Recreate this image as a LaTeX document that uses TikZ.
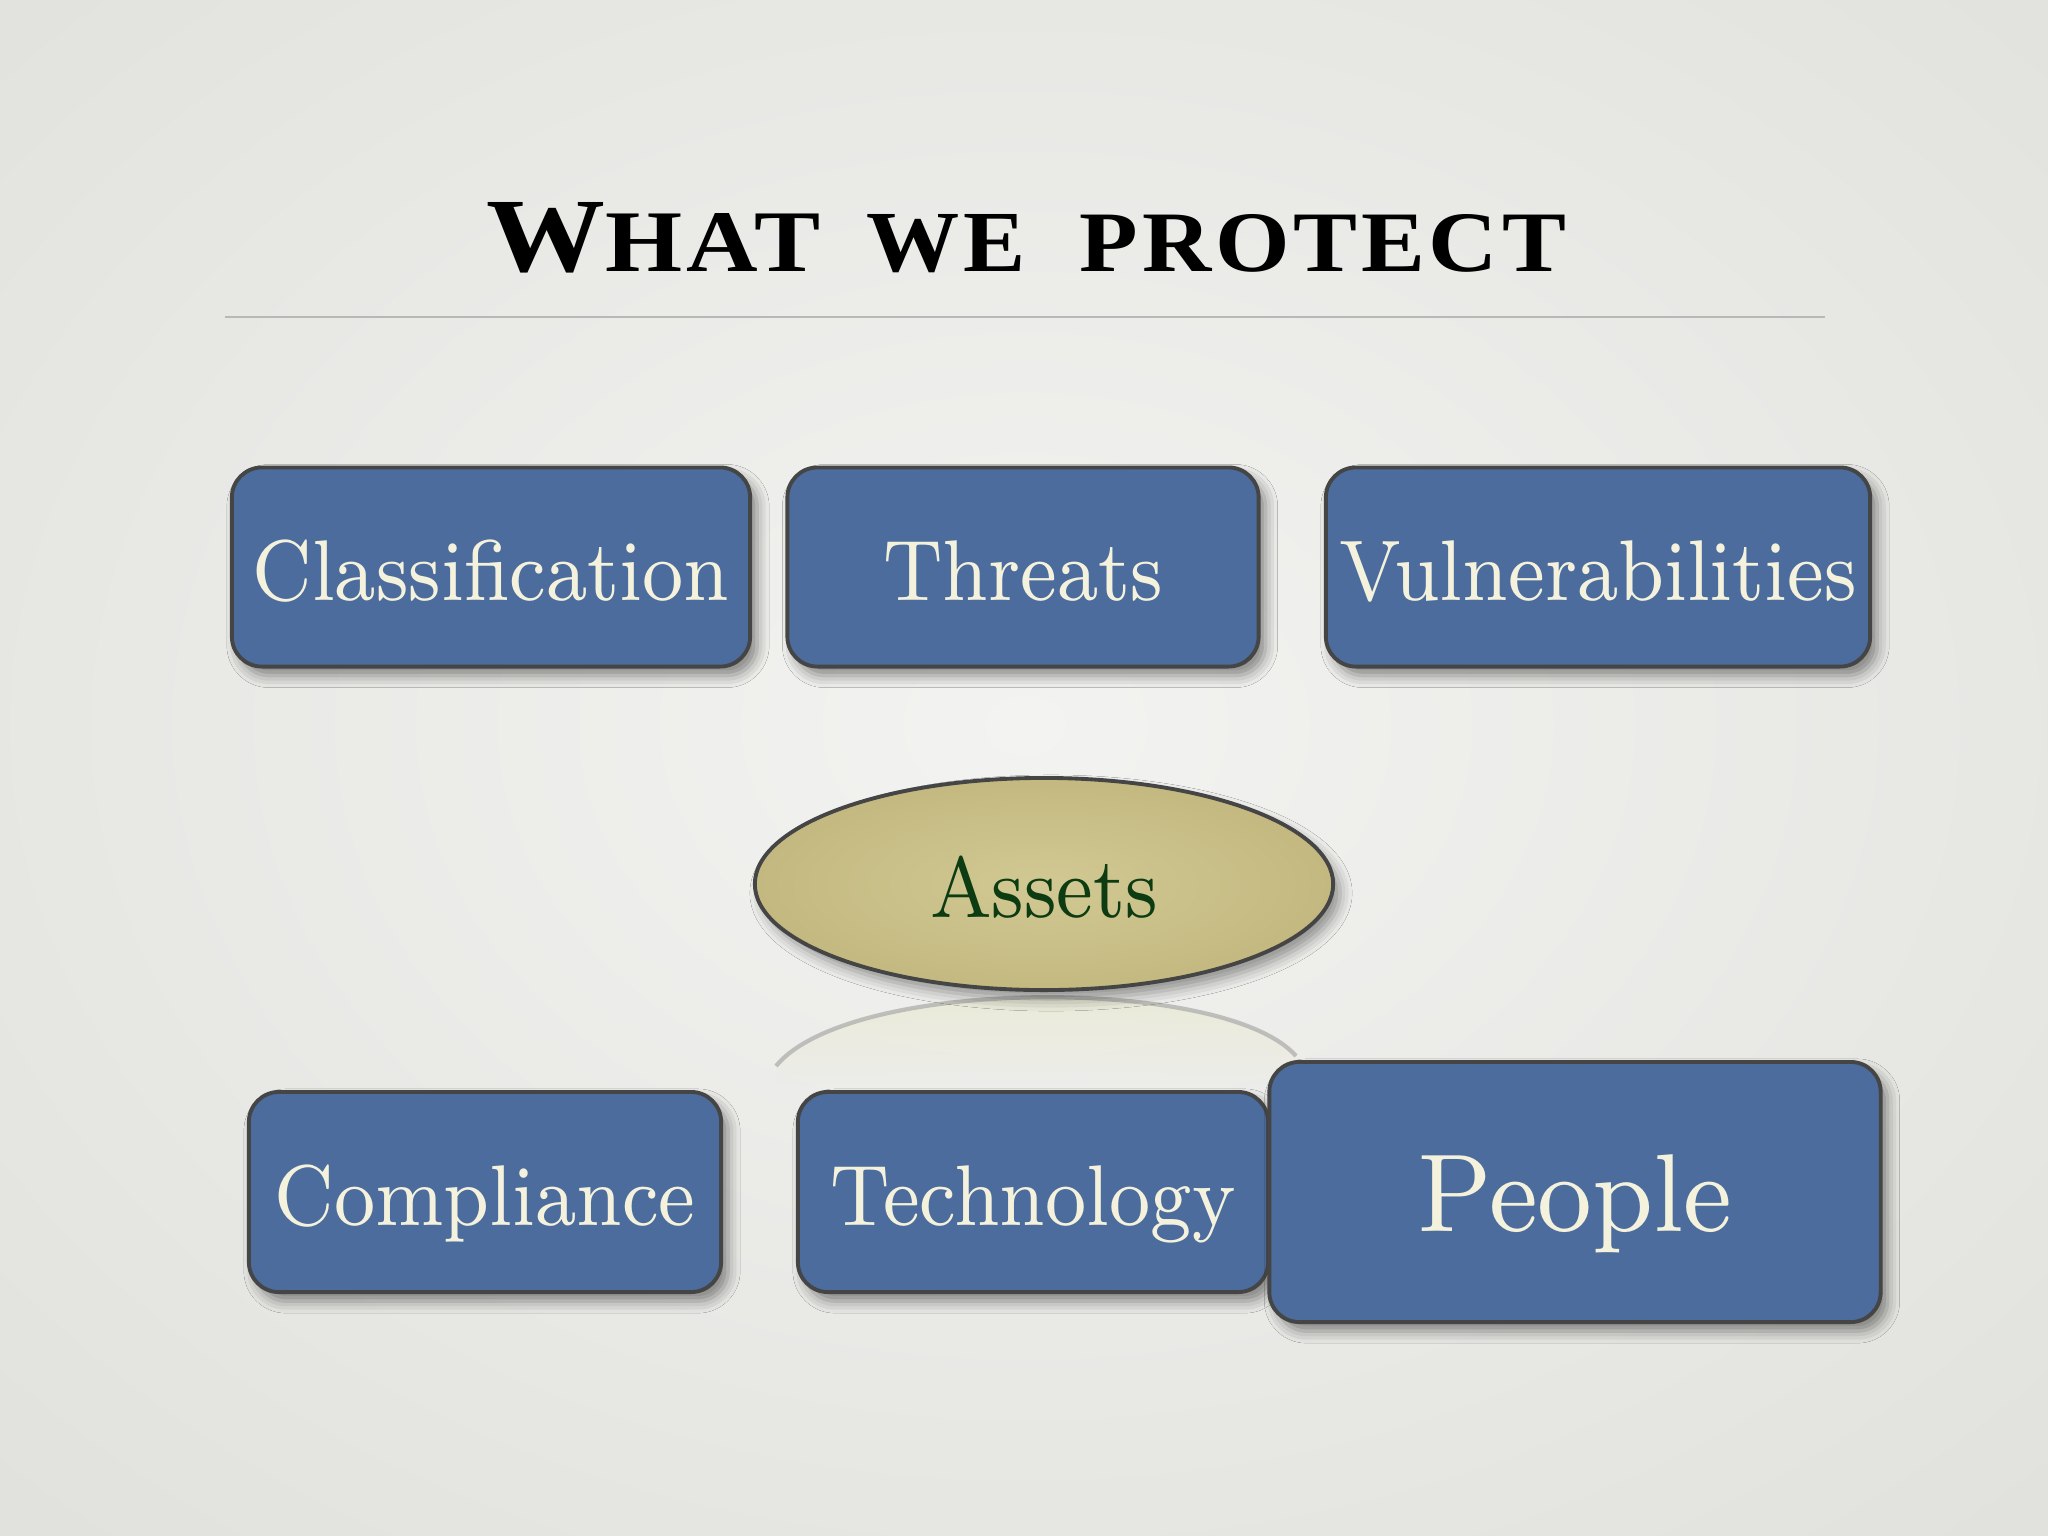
\documentclass[tikz,border=0pt]{standalone}
\usepackage{fontspec}
\newfontfamily\titlefont{Liberation Serif}[LetterSpace=4]
\newfontfamily\boxfont{lmroman8-regular.otf}
\usetikzlibrary{shapes.geometric,shadows.blur,fadings}
\definecolor{bgin}{HTML}{F3F3F1}
\definecolor{bgout}{HTML}{CFCFCA}
\definecolor{boxblue}{HTML}{4B6C9C}
\definecolor{edgegray}{HTML}{454545}
\definecolor{cream}{HTML}{F4F2DC}
\definecolor{khaki}{HTML}{D1C893}
\definecolor{khakiout}{HTML}{C3B980}
\definecolor{assetgreen}{HTML}{0E3C12}
\definecolor{rulegray}{HTML}{B8B8B6}
\definecolor{reflcol}{HTML}{E9E9D2}
\tikzfading[name=reflfade, top color=transparent!10, bottom color=transparent!100]
\newcommand{\bxt}[1]{\scalebox{0.9}[1]{#1}}
\tikzset{
  bluebox/.style={rectangle, draw=edgegray, line width=1.1pt, fill=boxblue,
    rounded corners=0.3cm, text=cream, inner sep=0pt,
    font=\boxfont\fontsize{24.5}{28}\selectfont, text height=0.66cm, text depth=0pt,
    blur shadow={shadow xshift=0.07cm, shadow yshift=-0.09cm, shadow blur radius=0.12cm, shadow opacity=45}},
  assetshape/.style={ellipse, draw=edgegray, line width=1.1pt, inner color=khaki, outer color=khakiout,
    inner sep=0pt, text=assetgreen, font=\boxfont\fontsize{24.5}{28}\selectfont, text height=0.66cm, text depth=0pt,
    blur shadow={shadow xshift=0.07cm, shadow yshift=-0.09cm, shadow blur radius=0.12cm, shadow opacity=40}},
  titleword/.style={inner sep=0pt, anchor=base west, text=black},
}
\begin{document}
\begin{tikzpicture}[x=0.01cm,y=-0.01cm]
\useasboundingbox (0,0) rectangle (2048,1536);
\begin{scope}
\clip (0,0) rectangle (2048,1536);
\shade[inner color=bgin, outer color=bgout] (-1900,-1450) rectangle (3950,2900);
\end{scope}

% title
\node[titleword] (t1) at (486,271) {\resizebox{3.34cm}{0.69cm}{\titlefont\bfseries{\fontsize{24}{24}\selectfont W}{\fontsize{20}{20}\selectfont HAT}}};
\node[titleword] (t2) at (866,271) {\resizebox{1.59cm}{0.57cm}{\titlefont\bfseries\fontsize{20}{20}\selectfont WE}};
\node[titleword] (t3) at (1079,271) {\resizebox{4.86cm}{0.57cm}{\titlefont\bfseries\fontsize{20}{20}\selectfont PROTECT}};
\coordinate (ruleL) at (225,317);
\coordinate (ruleR) at (1825,317);
\draw[rulegray, line width=0.7pt] (ruleL) -- (ruleR);

% top row
\node[bluebox, minimum width=5.18cm, minimum height=1.99cm] (cls) at (491,567) {\bxt{Classification}};
\node[bluebox, minimum width=4.71cm, minimum height=1.99cm] (thr) at (1023,567) {\bxt{Threats}};
\node[bluebox, minimum width=5.44cm, minimum height=1.99cm] (vul) at (1598,567) {\bxt{Vulnerabilities}};

% reflection
\fill[reflcol, path fading=reflfade] (776,1066) .. controls (850,976) and (1226,976) .. (1296,1056) -- (1296,1085) -- (776,1085) -- cycle;
\draw[gray!75, line width=1.2pt, opacity=0.6] (776,1066) .. controls (850,976) and (1226,976) .. (1296,1056);

% assets
\node[assetshape, minimum width=5.78cm, minimum height=2.12cm] (ast) at (1044,884) {\bxt{Assets}};

% bottom row
\node[bluebox, minimum width=4.72cm, minimum height=2.0cm] (cmp) at (485,1192) {\bxt{Compliance}};
\node[bluebox, minimum width=4.70cm, minimum height=2.0cm] (tec) at (1033,1192) {\bxt{Technology}};
\node[bluebox, minimum width=6.11cm, minimum height=2.6cm, font=\boxfont\fontsize{31.5}{35}\selectfont, text height=0.78cm] (ppl) at (1575,1192) {\scalebox{0.93}[1]{People}};
\end{tikzpicture}
\end{document}
